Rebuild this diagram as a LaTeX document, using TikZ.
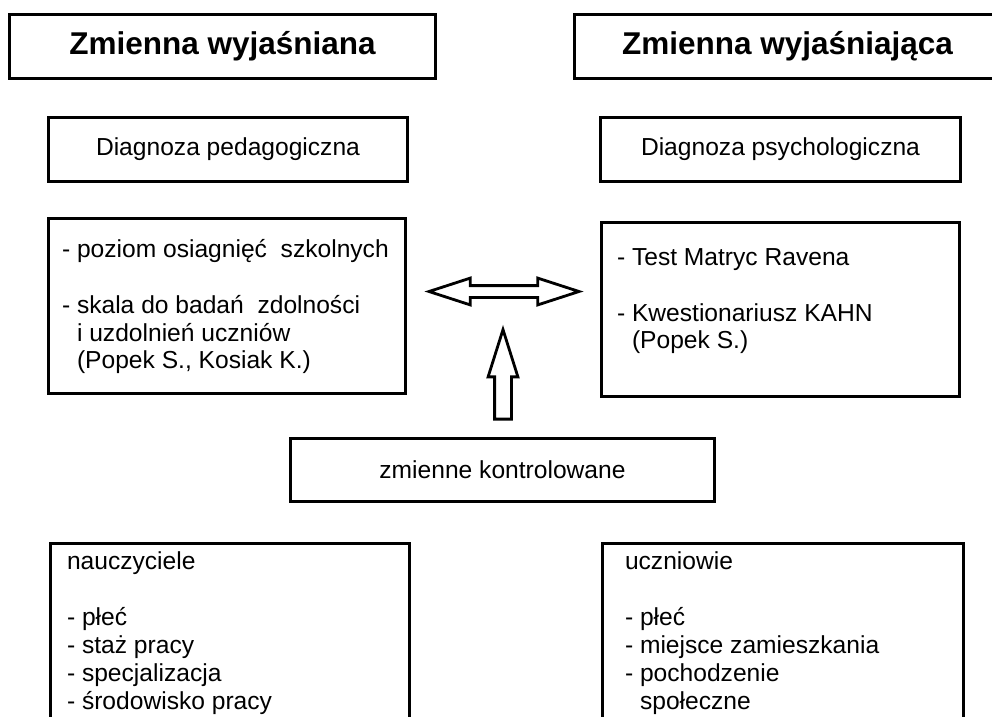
\documentclass[tikz,border=0pt]{standalone}
\usepackage{fontspec}
\setmainfont{Liberation Sans}
\usetikzlibrary{positioning,shapes.arrows}

\begin{document}
\begin{tikzpicture}[x=1pt, y=-1pt,
  % headline boxes: bold, larger type
  hdrbox/.style={draw, line width=3pt, inner sep=0pt, outer sep=0pt,
    minimum width=426pt, minimum height=64pt, font=\fontsize{31.5}{36}\selectfont\bfseries},
  % plain framed boxes
  plainbox/.style={draw, line width=3pt, inner sep=0pt, outer sep=0pt,
    font=\fontsize{24.6}{27.8}\selectfont},
  listtext/.style={inner sep=0pt, outer sep=0pt, align=left,
    font=\fontsize{24.6}{27.8}\selectfont},
  % hollow block arrows
  blockarrow/.style={draw, line width=2.8pt, inner xsep=0pt},
]
\useasboundingbox (0,0) rectangle (992,716);
\clip (0,0) rectangle (992,716);
\fill[white] (0,0) rectangle (992,716);

\def\xL{228}\def\xR{780.5}

% top row
\node[hdrbox] (depvar) at (222.5,46.5) {Zmienna wyjaśniana};
\node[hdrbox] (indvar) at (787.5,46.5) {Zmienna wyjaśniająca};

\node[plainbox, minimum width=359pt, minimum height=64pt] (pedag) at (\xL,149.5) {Diagnoza pedagogiczna};
\node[plainbox, minimum width=360pt, minimum height=64pt] (psych) at (\xR,149.5) {Diagnoza psychologiczna};

% instruments
\node[plainbox, minimum width=357pt, minimum height=175pt] (pedlist) at (227,306) {};
\node[listtext, below right=21pt and 13.5pt of pedlist.north west] (pedtext)
  {- poziom osiagnięć\ \ szkolnych\\[27.8pt]
   - skala do badań\ \ zdolności\\
   \hphantom{-\ }i uzdolnień uczniów\\
   \hphantom{-\ }(Popek S., Kosiak K.)};

\node[plainbox, minimum width=358pt, minimum height=174pt] (psylist) at (\xR,309.5) {};
\node[listtext, below right=26pt and 15.5pt of psylist.north west] (psytext)
  {- Test Matryc Ravena\\[27.8pt]
   - Kwestionariusz KAHN\\
   \hphantom{-\ }(Popek S.)};

% arrows between the two sides
\node[blockarrow, double arrow, inner ysep=4.5pt, minimum height=150pt,
  double arrow head extend=7.5pt, double arrow tip angle=36] (both) at (504,291.5) {};
\node[blockarrow, single arrow, rotate=90, anchor=tail, inner ysep=7pt, minimum height=89.5pt,
  single arrow head extend=6.5pt, single arrow tip angle=35] (up) at (503,420.5) {};

\node[plainbox, minimum width=424pt, minimum height=63pt] (ctrl) at (502.5,470) {zmienne kontrolowane};

% controlled variables, cut off at the bottom
\node[plainbox, minimum width=359pt, minimum height=200pt] (teach) at (230,643.5) {};
\node[listtext, below right=8pt and 16.5pt of teach.north west] (teachtext)
  {nauczyciele\\[28.5pt]
   - płeć\\
   - staż pracy\\
   - specjalizacja\\
   - środowisko pracy};

\node[plainbox, minimum width=361pt, minimum height=200pt] (pupil) at (783,643.5) {};
\node[listtext, below right=8pt and 22.5pt of pupil.north west] (pupiltext)
  {uczniowie\\[28.5pt]
   - płeć\\
   - miejsce zamieszkania\\
   - pochodzenie\\
   \hphantom{-\ }społeczne};
\end{tikzpicture}
\end{document}
